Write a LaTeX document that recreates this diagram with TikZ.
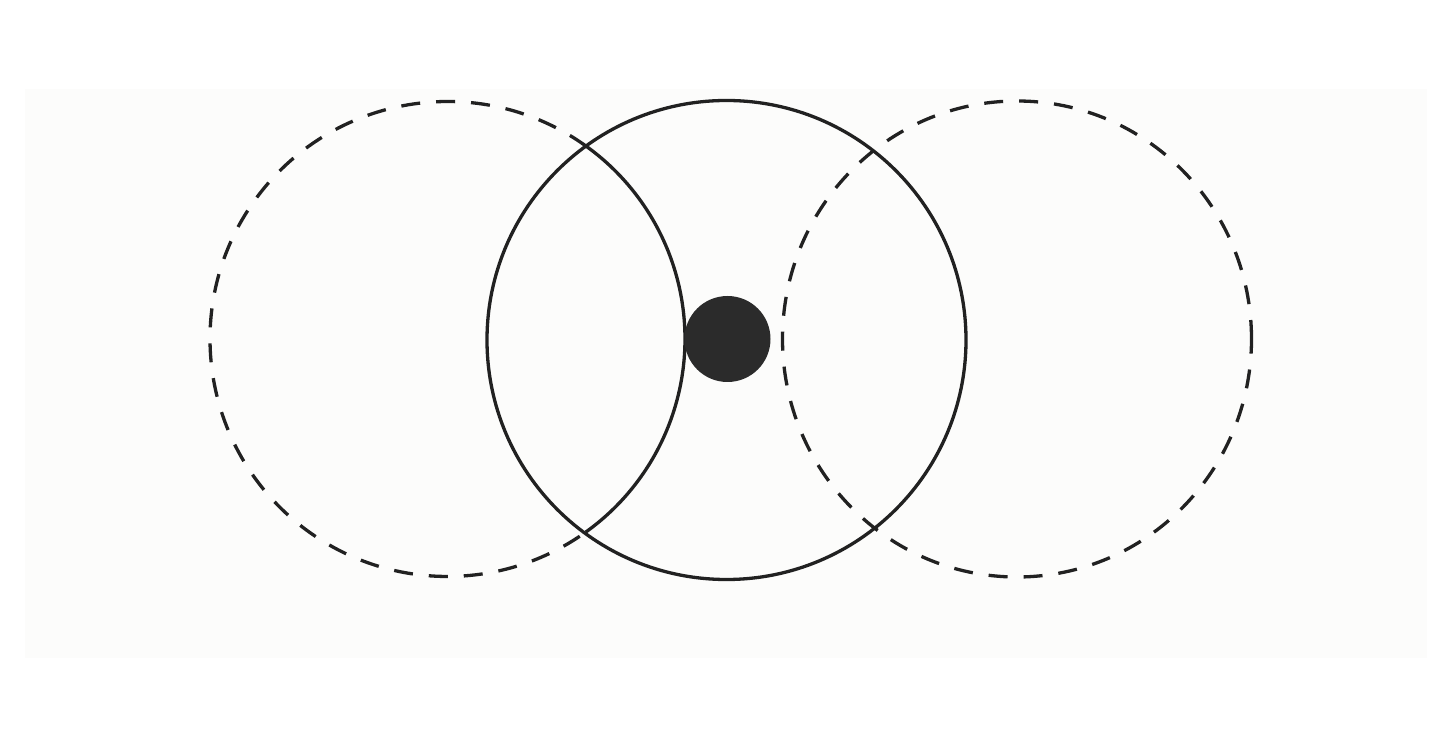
\documentclass[tikz,border=0pt]{standalone}
\begin{document}
\begin{tikzpicture}[x=1pt,y=1pt,
  ring/.style={draw=black!87,line width=3.3pt},
  dashring/.style={draw=black!87,line width=3.3pt,dash pattern=on 19pt off 16pt},
  dotfill/.style={fill=black!83}]
\definecolor{bgpaper}{RGB}{252,252,251}
\useasboundingbox (0,0) rectangle (1452,750);
\fill[white] (0,0) rectangle (1452,750);
\fill[bgpaper] (25,92) rectangle (1427,661);
% left circle: dashed outside, solid inside central circle
\draw[dashring] (447.5,411) ++(54.4:237.5) arc[start angle=54.4,end angle=305.6,radius=237.5];
\draw[ring] (447.5,411) ++(-54.4:237.5) arc[start angle=-54.4,end angle=54.4,radius=237.5];
% right circle fully dashed
\draw[dashring] (1017,411) ellipse[x radius=234.5,y radius=238];
% central circle
\node[ring,circle,minimum size=479pt,inner sep=0pt] (mid) at (726.5,410) {};
% central dot
\node[dotfill,circle,minimum size=86pt,inner sep=0pt] (dot) at (727.5,411) {};
\end{tikzpicture}
\end{document}
